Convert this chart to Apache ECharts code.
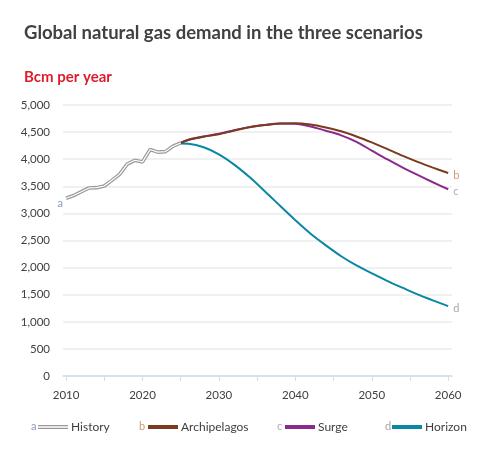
<!DOCTYPE html>
<html><head><meta charset="utf-8">
<script src="https://cdn.jsdelivr.net/npm/echarts@6/dist/echarts.min.js"></script>
<style>html,body{margin:0;padding:0;background:#fff}#c{width:492px;height:449px}</style>
</head><body><div id="c"></div>
<script>
const historyYears = [2010,2011,2012,2013,2014,2015,2016,2017,2018,2019,2020,2021,2022,2023,2024,2025];
const historyValues = [3280,3330,3400,3470,3475,3505,3610,3720,3910,3980,3950,4180,4130,4140,4240,4300];
const scenarioYears = [2025,2026,2028,2030,2032,2034,2036,2038,2040,2042,2044,2046,2048,2050,2052,2054,2056,2058,2060];
const archipelagosValues = [4300,4355,4415,4460,4530,4590,4630,4660,4665,4640,4585,4515,4420,4310,4190,4065,3950,3845,3745];
const surgeValues = [4300,4358,4420,4468,4535,4592,4630,4658,4655,4605,4525,4440,4320,4160,4000,3850,3710,3575,3445];
const horizonValues = [4290,4285,4220,4090,3900,3670,3410,3140,2875,2625,2410,2210,2040,1895,1755,1630,1505,1395,1290];
const xTickLabels = [2010,2020,2030,2040,2050,2060];
const xTicks = [2010,2015,2020,2025,2030,2035,2040,2045,2050,2055,2060];
const seriesNames = ['History','Archipelagos','Surge','Horizon'];
const seriesLetters = ['a','b','c','d'];

const F = 'Lato, "Noto Sans", sans-serif';
const colors = {History:'#9a9a9a', Archipelagos:'#7a3b1f', Surge:'#8c2a8c', Horizon:'#0a86a6'};
const letterColors = ['#8898bd','#c99b78','#b7a6bd','#a6a6a6'];
const pairs = (xs, ys) => xs.map((x, i) => [x, ys[i]]);

const histData = pairs(historyYears, historyValues);
histData[0] = {value: histData[0], label: {show: true, position: 'left', distance: 3, offset:[0,5], formatter: seriesLetters[0], color: letterColors[0], fontSize: 11, fontFamily: F}};

function scen(name, vals, idx, z) {
  return {
    name, type: 'line', data: pairs(scenarioYears, vals), smooth: 0.3, symbol: 'none', z,
    lineStyle: {color: colors[name], width: 2}, itemStyle: {color: colors[name]},
    endLabel: {show: true, formatter: seriesLetters[idx], color: letterColors[idx], fontSize: 11, fontFamily: F, distance: 5, offset:[0,2]}
  };
}

const legendLefts = [38, 148, 285, 392];
const letterLefts = [31, 139, 277, 385];

const option = {
  animation: false,
  backgroundColor: '#fff',
  title: [
    {text: 'Global natural gas demand in the three scenarios', left: 19, top: 19,
     textStyle: {fontFamily: F, fontSize: 18.5, fontWeight: 'bold', color: '#414042'}},
    {text: 'Bcm per year', left: 19, top: 65,
     textStyle: {fontFamily: F, fontSize: 15, fontWeight: 'bold', color: '#dd1d2a'}}
  ],
  grid: {left: 63, right: 40, top: 105, bottom: 73},
  xAxis: {
    type: 'value', min: 2009.6, max: 2060.5,
    axisLine: {show: true, lineStyle: {color: '#cfdbe8', width: 1.5}},
    axisTick: {show: true, customValues: xTicks, length: 5, lineStyle: {color: '#d6dde6'}},
    axisLabel: {customValues: xTickLabels, color: '#404040', fontFamily: F, fontSize: 11.5, margin: 13, formatter: v => String(v)},
    splitLine: {show: false}
  },
  yAxis: {
    type: 'value', min: 0, max: 5000, interval: 500,
    axisLine: {show: false}, axisTick: {show: false},
    axisLabel: {color: '#404040', fontFamily: F, fontSize: 11.5, margin: 13,
      formatter: v => v.toLocaleString('en-US')},
    splitLine: {lineStyle: {color: '#ebebeb', width: 1.5}}
  },
  legend: seriesNames.map((n, i) => ({
    data: [n], left: legendLefts[i], top: 421, padding: 0, itemWidth: 30, itemHeight: 4, itemGap: 5,
    icon: i === 0 ? 'path://M0,0H30V1.2H0Z M0,2.8H30V4H0Z' : 'rect',
    textStyle: {fontFamily: F, fontSize: 12, color: '#404040', padding: [0,0,0,-2]},
    selectedMode: false
  })),
  graphic: seriesLetters.map((l, i) => ({
    type: 'text', left: letterLefts[i], top: 421,
    style: {text: l, fill: letterColors[i], font: '11px ' + F}
  })),
  series: [
    scen('Horizon', horizonValues, 3, 2),
    scen('Surge', surgeValues, 2, 3),
    scen('Archipelagos', archipelagosValues, 1, 4),
    {name: 'History', type: 'line', data: histData, symbol: 'circle', symbolSize: 0, showSymbol: true, showAllSymbol: true, z: 5,
     lineStyle: {color: colors.History, width: 3.6}, itemStyle: {color: colors.History}},
    {name: 'HistoryInner', type: 'line', data: pairs(historyYears, historyValues), symbol: 'none', z: 6,
     lineStyle: {color: '#ffffff', width: 1.2}, itemStyle: {color: '#fff'}, silent: true}
  ]
};
echarts.init(document.getElementById('c')).setOption(option);
</script></body></html>
